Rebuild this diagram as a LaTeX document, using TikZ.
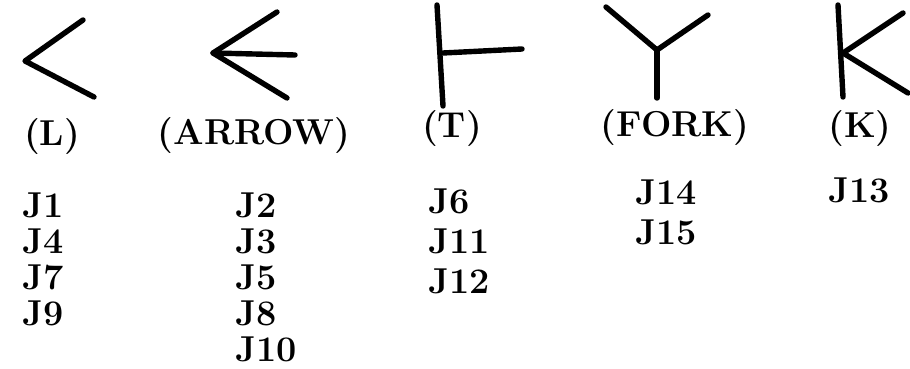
\documentclass[tikz,border=0pt]{standalone}
\tikzset{
  every picture/.append style={font=\fontsize{18}{20}\selectfont\bfseries},
  stroke/.style={line width=2.7pt, line cap=round, line join=round},
  kind/.style={inner sep=0pt, anchor=center},
  jname/.style={inner sep=0pt, anchor=west},
}
\begin{document}
\begin{tikzpicture}[x=0.5pt,y=-0.5pt]
\useasboundingbox (0,0) rectangle (910,369);

% ---------------- junction shapes ---------------------------------------------
% L
\draw[stroke] (83,20) -- (25,61) -- (94,97);
% arrow
\draw[stroke] (277,12) -- (213,53) -- (287,98);
\draw[stroke] (213,53) -- (295,55);
% T
\draw[stroke] (437,5) -- (443,106);
\draw[stroke] (443,53) -- (522,49);
% fork
\draw[stroke] (606,7) -- (657,50) -- (708,15);
\draw[stroke] (657,50) -- (657,98);
% K
\draw[stroke] (838,5) -- (843,97);
\draw[stroke] (903,13) -- (843,53) -- (908,93);

% ---------------- names of the kinds ------------------------------------------
\node[kind] (kL) at (52,137) {(L)};
\node[kind] (kArrow) at (254,136) {(ARROW)};
\node[kind] (kT) at (452,129) {(T)};
\node[kind] (kFork) at (675,128) {(FORK)};
\node[kind] (kK) at (860,129) {(K)};

% ---------------- junction lists ----------------------------------------------
\foreach \n [count=\i] in {J1,J4,J7,J9}
  \node[jname] (jL-\i) at (22,205+36*\i-36) {\n};
\foreach \n [count=\i] in {J2,J3,J5,J8,J10}
  \node[jname] (jA-\i) at (235,205+36*\i-36) {\n};
\foreach \n [count=\i] in {J6,J11,J12}
  \node[jname] (jT-\i) at (428,201+40*\i-40) {\n};
\foreach \n [count=\i] in {J14,J15}
  \node[jname] (jF-\i) at (635,192+40*\i-40) {\n};
\node[jname] (jK-1) at (828,190) {J13};

\end{tikzpicture}
\end{document}
